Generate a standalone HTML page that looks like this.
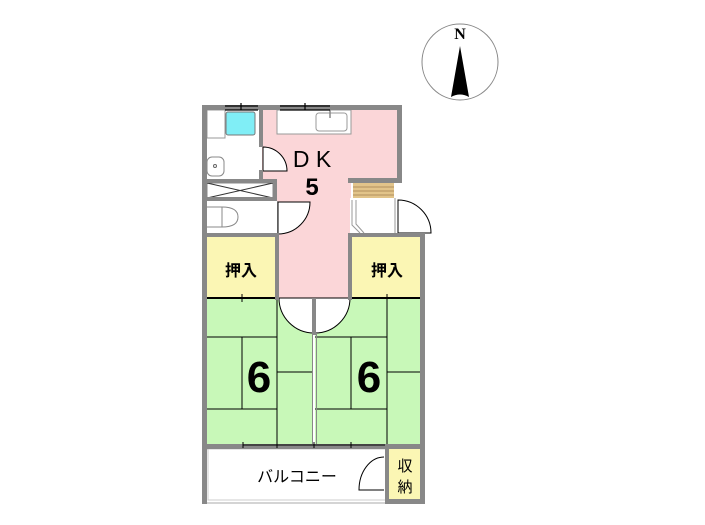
<!DOCTYPE html>
<html><head><meta charset="utf-8"><style>
html,body{margin:0;padding:0;background:#fff;}
svg{display:block}
text{font-family:"Liberation Sans","Noto Sans CJK JP",sans-serif}
</style></head><body>
<svg width="705" height="525" viewBox="0 0 705 525" xmlns="http://www.w3.org/2000/svg">
<circle cx="460" cy="62" r="38" fill="#fff" stroke="#888" stroke-width="1"/>
<text x="460" y="39" font-size="16" font-weight="bold" text-anchor="middle" style="font-family:'Liberation Serif',serif">N</text>
<path d="M460 46 L469 97 Q460 92 451 97 Z" fill="#000"/>

<rect x="262" y="110" width="136" height="70" fill="#fbd6d8"/>
<rect x="277" y="180" width="74" height="120" fill="#fbd6d8"/>
<rect x="207" y="237" width="69" height="61" fill="#fbf6b4"/>
<rect x="352" y="237" width="69" height="61" fill="#fbf6b4"/>
<rect x="207" y="298" width="106" height="148" fill="#c8f8b8"/>
<rect x="315" y="298" width="106" height="148" fill="#c8f8b8"/>
<rect x="388" y="449" width="33" height="51" fill="#fbf6b4"/>
<path d="M279 298 A35 35 0 0 0 314 333 L314 298 Z" fill="#fff" stroke="#000" stroke-width="1"/>
<path d="M350 298 A35 35 0 0 1 315 333 L315 298 Z" fill="#fff" stroke="#000" stroke-width="1"/>
<rect x="277" y="110" width="74" height="24" fill="#fff" stroke="#999" stroke-width="1"/>
<rect x="316" y="113" width="31" height="18" rx="3" fill="#fff" stroke="#999" stroke-width="1"/>
<line x1="330" y1="110" x2="330" y2="118" stroke="#888" stroke-width="1.5"/>
<rect x="207" y="110" width="18" height="28" fill="#fff" stroke="#999"/>
<rect x="226" y="112" width="29" height="23" rx="2" fill="#80eef6" stroke="#777"/>
<rect x="207" y="157" width="17" height="19" rx="5" fill="#fff" stroke="#888"/>
<circle cx="215" cy="166" r="1.5" fill="none" stroke="#666"/>
<rect x="207" y="183" width="66" height="15" fill="#fff" stroke="#888"/>
<line x1="207" y1="183" x2="273" y2="198" stroke="#333"/>
<line x1="207" y1="198" x2="273" y2="183" stroke="#333"/>
<path d="M207 207 L222 207 Q238 207 238 217 Q238 227 222 227 L207 227" fill="#fff" stroke="#888"/>
<line x1="222" y1="207" x2="222" y2="227" stroke="#888"/>
<rect x="277" y="201" width="1" height="33" fill="#bbb"/>
<path d="M278 234 A32 32 0 0 0 310 202 L278 202 Z" fill="#fff" stroke="#000"/>
<path d="M263 147 A24 24 0 0 1 287 171 L263 171 Z" fill="#fff" stroke="#000"/>
<rect x="350" y="198" width="47" height="35" fill="#fff"/>
<rect x="353" y="183" width="41" height="15" fill="#e2c48a"/>
<g stroke="#a08050" stroke-width="0.8"><line x1="353" y1="187" x2="394" y2="187"/><line x1="353" y1="191" x2="394" y2="191"/><line x1="353" y1="195" x2="394" y2="195"/></g>
<path d="M352 200 L352 225 L360 233" fill="none" stroke="#999"/>
<path d="M356 200 L356 224 L364 233" fill="none" stroke="#999"/>
<line x1="395" y1="198" x2="395" y2="233" stroke="#999"/>
<path d="M398 200 A33 33 0 0 1 431 233 L398 233 Z" fill="#fff" stroke="#000"/>
<g stroke="#000" stroke-width="1" fill="none">
<line x1="242" y1="337" x2="242" y2="409"/><line x1="277" y1="298" x2="277" y2="445"/>
<line x1="207" y1="337" x2="277" y2="337"/><line x1="207" y1="409" x2="277" y2="409"/>
<line x1="277" y1="372" x2="313" y2="372"/>
<line x1="351" y1="337" x2="351" y2="409"/><line x1="387" y1="298" x2="387" y2="445"/>
<line x1="315" y1="337" x2="387" y2="337"/><line x1="315" y1="409" x2="387" y2="409"/>
<line x1="387" y1="372" x2="421" y2="372"/>
<line x1="207" y1="298" x2="277" y2="298" stroke-width="2"/><line x1="242" y1="294" x2="242" y2="302"/>
<line x1="352" y1="298" x2="421" y2="298" stroke-width="2"/><line x1="387" y1="294" x2="387" y2="302"/>
</g>
<rect x="205" y="449" width="181" height="54" fill="#fff" stroke="#aaa"/>
<rect x="208" y="449" width="178" height="51" fill="none" stroke="#ccc"/>
<path d="M384 457 A25 33 0 0 0 359 490 L384 490" fill="#fff" stroke="#000"/>
<g fill="#888">
<rect x="202" y="105" width="200" height="5"/>
<rect x="202" y="105" width="5" height="399"/>
<rect x="397" y="105" width="5" height="78"/>
<rect x="259" y="105" width="4" height="42"/><rect x="259" y="170" width="4" height="13"/>
<rect x="202" y="179" width="75" height="4"/>
<rect x="273" y="179" width="4" height="22"/>
<rect x="202" y="197" width="75" height="4"/>
<rect x="202" y="233" width="77" height="4"/>
<rect x="275" y="233" width="4" height="67"/>
<rect x="348" y="178" width="51" height="5"/>
<rect x="348" y="233" width="77" height="4"/>
<rect x="348" y="233" width="4" height="67"/>
<rect x="420" y="233" width="5" height="271"/>
<rect x="312" y="298" width="4" height="37"/>
<rect x="312" y="333" width="1" height="112"/><rect x="316" y="333" width="1" height="112"/>
<rect x="202" y="444" width="223" height="5"/>
<rect x="385" y="449" width="4" height="55"/>
<rect x="385" y="499" width="40" height="5"/>
</g>
<g stroke="#000" stroke-width="1">
<line x1="243" y1="445" x2="385" y2="445"/>
<line x1="243" y1="442" x2="243" y2="448"/><line x1="277" y1="442" x2="277" y2="448"/><line x1="314" y1="442" x2="314" y2="448"/><line x1="351" y1="442" x2="351" y2="448"/>
</g>
<g stroke="#000" stroke-width="1.2">
<line x1="225" y1="106" x2="258" y2="106"/><line x1="225" y1="110" x2="258" y2="110"/><line x1="241" y1="103" x2="241" y2="110"/>
<line x1="280" y1="106" x2="330" y2="106"/><line x1="280" y1="110" x2="330" y2="110"/><line x1="305" y1="103" x2="305" y2="110"/>
</g>
<text x="312" y="167" font-size="23" text-anchor="middle">D K</text>
<text x="312" y="195" font-size="24" font-weight="bold" text-anchor="middle">5</text>
<text x="241" y="276" font-size="16" font-weight="bold" text-anchor="middle">押入</text>
<text x="387" y="276" font-size="16" font-weight="bold" text-anchor="middle">押入</text>
<text x="259" y="392" font-size="44" font-weight="bold" text-anchor="middle">6</text>
<text x="369" y="392" font-size="44" font-weight="bold" text-anchor="middle">6</text>
<text x="297" y="482" font-size="16" text-anchor="middle">バルコニー</text>
<text x="405" y="471" font-size="15" text-anchor="middle">収</text>
<text x="405" y="492" font-size="15" text-anchor="middle">納</text>
</svg>
</body></html>
